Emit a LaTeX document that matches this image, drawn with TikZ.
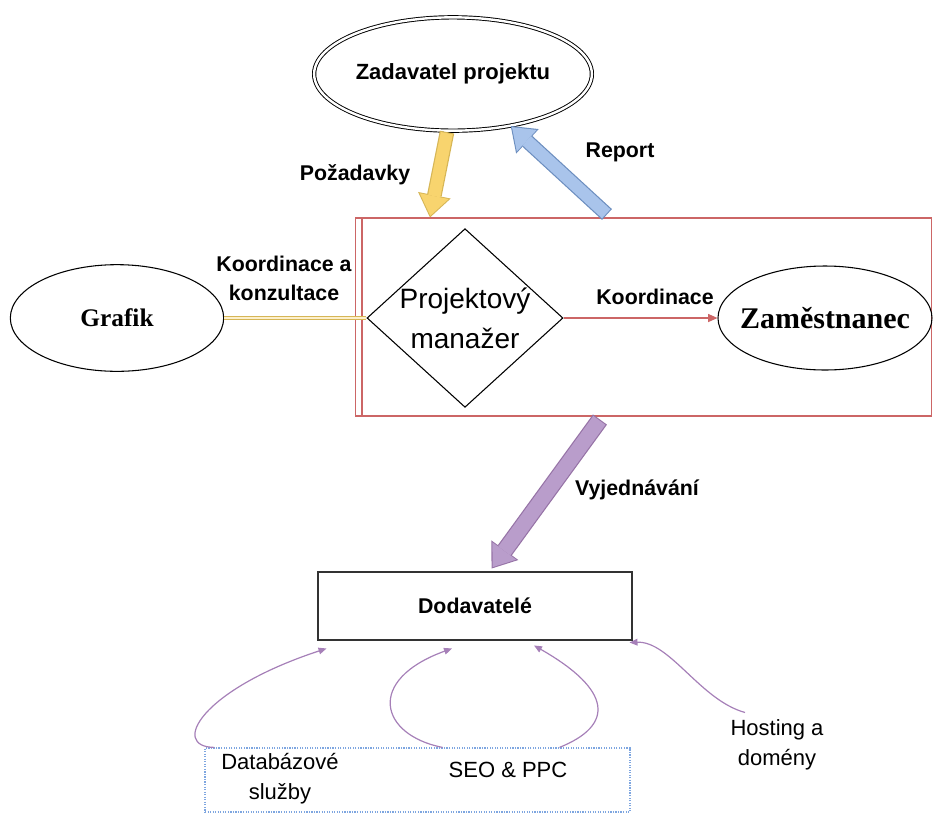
\documentclass[tikz,border=0pt]{standalone}
\usepackage{fontspec}
\setmainfont{Liberation Sans}
\newfontfamily\timesfam{Liberation Serif}
\usetikzlibrary{shapes.geometric,arrows.meta,calc}

\definecolor{yelfill}{HTML}{F8D46E}
\definecolor{yeldark}{HTML}{D6B656}
\definecolor{blufill}{HTML}{A9C4EB}
\definecolor{bludark}{HTML}{6C8EBF}
\definecolor{purfill}{HTML}{B99DCB}
\definecolor{purdark}{HTML}{9673A6}
\definecolor{redline}{HTML}{CC6666}
\definecolor{curvepurple}{HTML}{A680B8}
\definecolor{dotblue}{HTML}{7EA6E0}

\begin{document}
\begin{tikzpicture}[x=0.75pt,y=0.75pt,yscale=-1,xscale=1,
  lbl/.style={font=\fontsize{16}{21.75}\selectfont\bfseries, inner sep=0.75pt, align=center},
  svc/.style={font=\fontsize{16.5}{22.5}\selectfont, inner sep=0.75pt, align=center},
  oval/.style={ellipse, draw, line width=0.8pt, inner sep=0pt},
  serifname/.style={font=\fontsize{19}{22}\selectfont\timesfam\bfseries},
  thinarr/.style={draw=curvepurple, line width=0.9pt, -{Triangle[length=6pt,width=5pt]}},
  fatout/.style={line width=11pt, -{Triangle[length=17pt,width=25pt,line width=0pt]}},
  fatin/.style={line width=9.2pt, shorten >=1.3pt, shorten <=0.8pt, -{Triangle[length=15pt,width=22pt,line width=0pt]}}
]
\useasboundingbox (0,0) rectangle (933,815);

%Shape: Rectangle (box round the manager)
\node [draw=redline, line width=0.8pt, minimum width=432pt, minimum height=148.5pt, inner sep=0pt] (pmbox) at (643.5,317) {};
\draw [redline, line width=0.8pt] ($(pmbox.north west)+(7,0)$) -- ($(pmbox.south west)+(7,0)$) ;

%Shape: Ellipse (double)
\node [oval, double, double distance=1.8pt, line width=0.7pt, minimum width=182pt, minimum height=85pt, lbl, font=\fontsize{16.5}{20}\selectfont\bfseries] (zad) at (453,74) {Zadavatel projektu};
%Shape: Ellipse
\node [oval, minimum width=160pt, minimum height=80pt, serifname] (grafik) at (117,318) {Grafik};
%Shape: Ellipse
\node [oval, minimum width=160.5pt, minimum height=78pt, inner sep=-12pt, serifname, font=\fontsize{22.5}{26}\selectfont\timesfam\bfseries] (zam) at (825,318) {Zaměstnanec};
%Shape: Diamond
\node [diamond, draw, line width=0.8pt, minimum width=147pt, minimum height=134pt, inner sep=-8pt, align=center, font=\fontsize{21}{30}\selectfont] (pm) at (465,318) {Projektový\\manažer};
%Shape: Rectangle
\node [draw=black!80, line width=2.2pt, minimum width=235.5pt, minimum height=51pt, lbl] (dod) at (475,606) {Dodavatelé};
%Shape: Rectangle (dotted)
\node [draw=dotblue, densely dotted, line width=0.9pt, minimum width=318.75pt, minimum height=48pt] (svcbox) at (417.5,780) {};

% Text Node
\node [svc] (db) at (280,779) {Databázové\\služby};
% Text Node
\node [svc] (seo) at (508,770) {SEO \& PPC};
% Text Node
\node [svc] (host) at (777,745) {Hosting a\\domény};

%Fat Arrows
\draw [fatout, yeldark] ($(zad.south)+(-6,1)$) -- ($(pmbox.north west)+(75,0)$) ;
\draw [fatin, yelfill] ($(zad.south)+(-6,1)$) -- ($(pmbox.north west)+(75,0)$) ;
\draw [fatout, bludark] ($(pmbox.north west)+(252,-3)$) -- (zad.-42) ;
\draw [fatin, blufill] ($(pmbox.north west)+(252,-3)$) -- (zad.-42) ;
\draw [fatout, purdark, line width=13pt] ($(pmbox.south west)+(245,3)$) -- ($(dod.north west)+(175,-2)$) ;
\draw [fatin, purfill, line width=11.2pt] ($(pmbox.south west)+(245,3)$) -- ($(dod.north west)+(175,-2)$) ;

%Straight Lines
\draw [yeldark, double=yelfill!35, double distance=1.6pt, line width=1pt] (grafik.east) -- (pm.west) ;
%Straight Lines
\draw [redline, line width=0.9pt, -{Triangle[length=7pt,width=6pt]}] (pm.east) -- (zam.west) ;

%Curve Lines
\draw [thinarr] ($(svcbox.north west)+(10,0)$) .. controls (170,747) and (200,690) .. ($(dod.south west)+(10,7)$) ;
\draw [thinarr] ($(svcbox.north)+(25,0)$) .. controls (380,735) and (365,680) .. ($(dod.south)+(-23,7)$) ;
\draw [thinarr] ($(svcbox.north)+(142,0)$) .. controls (615,725) and (612,690) .. ($(dod.south)+(59,4)$) ;
\draw [thinarr] ($(host.north)+(-32,-6)$) .. controls (700,700) and (670,641) .. ($(dod.south east)+(-4,1)$) ;

% Text Node
\node [lbl] (lreq) at (355,175) {Požadavky};
% Text Node
\node [lbl] (lrep) at (620,152) {Report};
% Text Node
\node [lbl] (lkonz) at (284,278) {Koordinace a\\konzultace};
% Text Node
\node [lbl] (lkoord) at (655,297) {Koordinace};
% Text Node
\node [lbl] (lvyj) at (637,490) {Vyjednávání};

\end{tikzpicture}
\end{document}
